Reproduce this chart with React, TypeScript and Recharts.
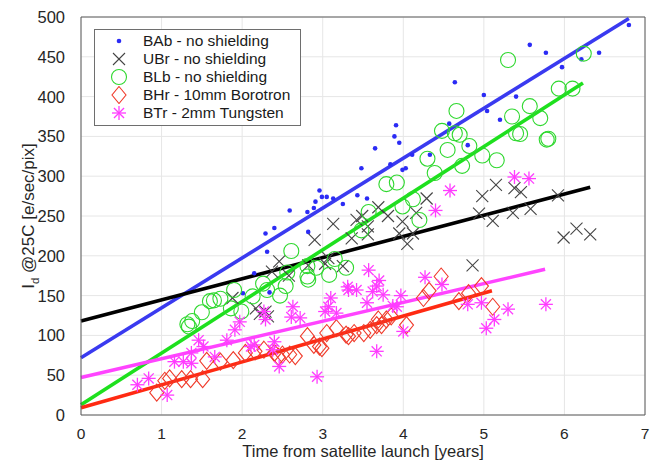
import React from 'react';
import {
  ScatterChart,
  Scatter,
  XAxis,
  YAxis,
  CartesianGrid,
  ReferenceLine,
} from 'recharts';

// Dark current at 25C versus time since launch, per detector.
const xTicks = [0, 1, 2, 3, 4, 5, 6, 7];
const yTicks = [0, 50, 100, 150, 200, 250, 300, 350, 400, 450, 500];

const seriesNames = [
  'BAb - no shielding',
  'UBr - no shielding',
  'BLb - no shielding',
  'BHr - 10mm Borotron',
  'BTr - 2mm Tungsten',
];

// [years, e/sec/pix]
const babPoints: [number, number][] = [
  [2.01, 153], [2.15, 178], [2.29, 228], [2.31, 205], [2.34, 154], [2.4, 235],
  [2.59, 257], [2.81, 255], [2.82, 230], [2.89, 260], [2.91, 268], [2.96, 282],
  [2.99, 274], [3.05, 274], [3.13, 272], [3.25, 265], [3.43, 276], [3.48, 310],
  [3.55, 272], [3.65, 335], [3.84, 315], [3.89, 350], [3.91, 364], [3.95, 342],
  [3.99, 308], [4.03, 310], [4.11, 327], [4.33, 327], [4.57, 366], [4.64, 418],
  [4.8, 339], [5.0, 402], [5.04, 382], [5.2, 371], [5.4, 400], [5.57, 465],
  [5.77, 455], [5.97, 437], [6.21, 447], [6.43, 455], [6.8, 490],
];

const ubrPoints: [number, number][] = [
  [1.88, 147], [2.17, 134], [2.22, 127], [2.29, 130], [2.32, 124], [2.37, 180],
  [2.46, 193], [2.58, 175], [2.82, 188], [2.9, 220], [3.03, 190], [3.07, 197],
  [3.13, 240], [3.25, 187], [3.36, 222], [3.42, 245], [3.49, 250], [3.56, 237],
  [3.56, 227], [3.69, 261], [3.81, 250], [3.95, 228], [3.99, 243], [4.05, 215],
  [4.12, 228], [4.16, 254], [4.29, 272], [4.86, 188], [4.94, 253], [4.98, 275],
  [5.11, 244], [5.15, 289], [5.36, 254], [5.38, 285], [5.46, 280], [5.58, 259],
  [5.92, 276], [5.99, 223], [6.15, 234], [6.32, 227],
];

const blbPoints: [number, number][] = [
  [1.32, 114], [1.34, 111], [1.38, 118], [1.5, 129], [1.6, 143], [1.65, 144],
  [1.73, 146], [1.86, 134], [1.9, 157], [1.99, 130], [2.13, 149], [2.26, 165],
  [2.31, 157], [2.47, 150], [2.54, 162], [2.56, 179], [2.61, 206], [2.81, 187],
  [2.81, 174], [2.82, 170], [2.92, 185], [3.08, 176], [3.15, 196], [3.29, 185],
  [3.48, 232], [3.57, 255], [3.79, 290], [3.92, 292], [3.99, 262], [4.12, 271],
  [4.2, 245], [4.3, 322], [4.39, 304], [4.48, 357], [4.55, 333], [4.64, 354],
  [4.66, 382], [4.7, 352], [4.73, 313], [4.82, 338], [4.98, 326], [5.16, 320],
  [5.3, 446], [5.35, 375], [5.4, 354], [5.45, 353], [5.57, 388], [5.7, 373],
  [5.78, 346], [5.8, 347], [5.93, 410], [6.1, 410], [6.24, 454],
];

const bhrPoints: [number, number][] = [
  [0.94, 28], [1.04, 43], [1.1, 46], [1.25, 45], [1.36, 45], [1.51, 45],
  [1.56, 68], [1.73, 67], [1.89, 69], [2.04, 78], [2.16, 80], [2.27, 82],
  [2.4, 78], [2.45, 73], [2.5, 76], [2.59, 76], [2.66, 74], [2.81, 99],
  [2.89, 88], [2.96, 86], [2.99, 84], [3.05, 103], [3.17, 109], [3.29, 101],
  [3.32, 99], [3.39, 103], [3.51, 103], [3.59, 107], [3.67, 113], [3.69, 120],
  [3.73, 113], [3.79, 120], [3.85, 124], [4.04, 113], [4.25, 147], [4.32, 156],
  [4.47, 174], [4.69, 143], [4.81, 153], [4.97, 162], [5.11, 136],
];

const btrPoints: [number, number][] = [
  [0.7, 38], [0.84, 46], [1.07, 25], [1.16, 67], [1.27, 67], [1.37, 65],
  [1.37, 78], [1.46, 94], [1.52, 86], [1.66, 73], [1.81, 94], [1.91, 107],
  [1.97, 117], [2.11, 86], [2.15, 88], [2.27, 130], [2.29, 120], [2.38, 82],
  [2.4, 92], [2.46, 61], [2.61, 123], [2.63, 136], [2.72, 122], [2.93, 48],
  [3.03, 130], [3.07, 136], [3.1, 147], [3.17, 128], [3.31, 161], [3.32, 157],
  [3.42, 157], [3.55, 141], [3.57, 182], [3.62, 155], [3.67, 80], [3.67, 162],
  [3.7, 169], [3.75, 151], [3.87, 137], [3.92, 136], [3.97, 150], [4.0, 105],
  [4.27, 173], [4.4, 257], [4.48, 164], [4.58, 282], [4.8, 139], [4.97, 141],
  [5.03, 109], [5.13, 120], [5.3, 133], [5.38, 299], [5.56, 297], [5.77, 139],
];

// Linear fits: start and end of each line
const babFit: [number, number][] = [[0, 72], [6.8, 498]];
const ubrFit: [number, number][] = [[0, 118], [6.32, 286]];
const blbFit: [number, number][] = [[0, 13], [6.23, 417]];
const bhrFit: [number, number][] = [[0, 9], [5.1, 156]];
const btrFit: [number, number][] = [[0, 47], [5.76, 183]];

const toRows = (pts: [number, number][]) => pts.map(([x, y]) => ({ x, y }));

const COLORS = {
  bab: '#2b2bf5',
  ubr: '#444444',
  blb: '#2fd82f',
  bhr: '#f03a2a',
  btr: '#ff3cff',
};
const LINE_COLORS = {
  bab: '#3a3af0',
  ubr: '#000000',
  blb: '#1ee01e',
  bhr: '#ff2a12',
  btr: '#ff44ff',
};

const FONT = '"Liberation Sans", Arial, Helvetica, sans-serif';
const TEXT = '#262626';

type MarkerProps = { cx?: number; cy?: number };

const DotMark = ({ cx = 0, cy = 0 }: MarkerProps) => (
  <circle cx={cx} cy={cy} r={2.3} fill={COLORS.bab} />
);
const CrossMark = ({ cx = 0, cy = 0 }: MarkerProps) => {
  const s = 6;
  return (
    <g stroke={COLORS.ubr} strokeWidth={1.1} fill="none">
      <line x1={cx - s} y1={cy - s} x2={cx + s} y2={cy + s} />
      <line x1={cx - s} y1={cy + s} x2={cx + s} y2={cy - s} />
    </g>
  );
};
const CircleMark = ({ cx = 0, cy = 0 }: MarkerProps) => (
  <circle cx={cx} cy={cy} r={7.5} fill="none" stroke={COLORS.blb} strokeWidth={1.1} />
);
const DiamondMark = ({ cx = 0, cy = 0 }: MarkerProps) => {
  const w = 7;
  const h = 8.5;
  return (
    <polygon
      points={`${cx},${cy - h} ${cx + w},${cy} ${cx},${cy + h} ${cx - w},${cy}`}
      fill="none"
      stroke={COLORS.bhr}
      strokeWidth={1.1}
    />
  );
};
const StarMark = ({ cx = 0, cy = 0 }: MarkerProps) => {
  const r = 7;
  const d = r * 0.72;
  return (
    <g stroke={COLORS.btr} strokeWidth={1.3} fill="none">
      <line x1={cx} y1={cy - r} x2={cx} y2={cy + r} />
      <line x1={cx - r} y1={cy} x2={cx + r} y2={cy} />
      <line x1={cx - d} y1={cy - d} x2={cx + d} y2={cy + d} />
      <line x1={cx - d} y1={cy + d} x2={cx + d} y2={cy - d} />
    </g>
  );
};

const legendMarkers = [DotMark, CrossMark, CircleMark, DiamondMark, StarMark];

const LegendBox = () => (
  <div
    style={{
      position: 'absolute',
      left: 94,
      top: 29,
      border: '1px solid #6e6e6e',
      background: '#ffffff',
      padding: '2px 10px 3px 8px',
      fontFamily: FONT,
      fontSize: 15.5,
      color: '#1a1a1a',
      lineHeight: '18px',
    }}
  >
    {seriesNames.map((name, i) => {
      const M = legendMarkers[i];
      return (
        <div key={name} style={{ display: 'flex', alignItems: 'center' }}>
          <svg width={32} height={18} style={{ display: 'block' }}>
            <M cx={16} cy={9} />
          </svg>
          <span style={{ marginLeft: 8, whiteSpace: 'nowrap' }}>{name}</span>
        </div>
      );
    })}
  </div>
);

const XTick = (props: any) => {
  const { x, y, payload } = props;
  return (
    <text x={x} y={y + 16} textAnchor="middle" fill={TEXT} fontSize={15.5} fontFamily={FONT}>
      {payload.value}
    </text>
  );
};
const YTick = (props: any) => {
  const { x, y, payload } = props;
  return (
    <text x={x - 8} y={y + 6} textAnchor="end" fill={TEXT} fontSize={16.5} fontFamily={FONT}>
      {payload.value}
    </text>
  );
};

const YLabel = (props: any) => {
  const vb = props.viewBox || {};
  const cx = 34;
  const cy = (vb.y ?? 17) + (vb.height ?? 398) / 2;
  return (
    <text
      transform={`translate(${cx},${cy}) rotate(-90)`}
      textAnchor="middle"
      fill={TEXT}
      fontSize={17}
      fontFamily={FONT}
    >
      <tspan>I</tspan>
      <tspan fontSize={11.5} dy={5}>d</tspan>
      <tspan dy={-5}> @25C [e/sec/pix]</tspan>
    </text>
  );
};

const XLabel = (props: any) => {
  const vb = props.viewBox || {};
  const cx = (vb.x ?? 81) + (vb.width ?? 564) / 2;
  return (
    <text x={cx} y={457} textAnchor="middle" fill={TEXT} fontSize={16.5} fontFamily={FONT}>
      Time from satellite launch [years]
    </text>
  );
};

const fits = [
  { key: 'bab', pts: babFit },
  { key: 'ubr', pts: ubrFit },
  { key: 'blb', pts: blbFit },
  { key: 'bhr', pts: bhrFit },
  { key: 'btr', pts: btrFit },
] as const;

export default function App() {
  return (
    <div
      style={{
        position: 'absolute',
        left: 0,
        top: 0,
        width: 650,
        height: 461,
        background: '#ffffff',
        overflow: 'hidden',
      }}
    >
      <ScatterChart
        width={650}
        height={461}
        margin={{ top: 17, right: 5, bottom: 0, left: 0 }}
      >
        <CartesianGrid stroke="#e6e6e6" strokeWidth={1} />
        <XAxis
          type="number"
          dataKey="x"
          domain={[0, 7]}
          ticks={xTicks}
          allowDataOverflow
          height={46}
          stroke="#5a5a5a"
          tickLine={false}
          tick={<XTick />}
          label={<XLabel />}
        />
        <YAxis
          type="number"
          dataKey="y"
          domain={[0, 500]}
          ticks={yTicks}
          allowDataOverflow
          width={81}
          stroke="#5a5a5a"
          tickLine={false}
          tick={<YTick />}
          label={<YLabel />}
        />
        <ReferenceLine y={500} stroke="#5a5a5a" strokeWidth={1} />
        <ReferenceLine x={7} stroke="#5a5a5a" strokeWidth={1} />

        <Scatter name={seriesNames[0]} data={toRows(babPoints)} shape={<DotMark />} isAnimationActive={false} />
        <Scatter name={seriesNames[1]} data={toRows(ubrPoints)} shape={<CrossMark />} isAnimationActive={false} />
        <Scatter name={seriesNames[2]} data={toRows(blbPoints)} shape={<CircleMark />} isAnimationActive={false} />
        <Scatter name={seriesNames[3]} data={toRows(bhrPoints)} shape={<DiamondMark />} isAnimationActive={false} />
        <Scatter name={seriesNames[4]} data={toRows(btrPoints)} shape={<StarMark />} isAnimationActive={false} />

        {fits.map((f) => (
          <ReferenceLine
            key={f.key}
            segment={[
              { x: f.pts[0][0], y: f.pts[0][1] },
              { x: f.pts[1][0], y: f.pts[1][1] },
            ]}
            stroke={LINE_COLORS[f.key]}
            strokeWidth={3.6}
          />
        ))}
      </ScatterChart>
      <LegendBox />
    </div>
  );
}
